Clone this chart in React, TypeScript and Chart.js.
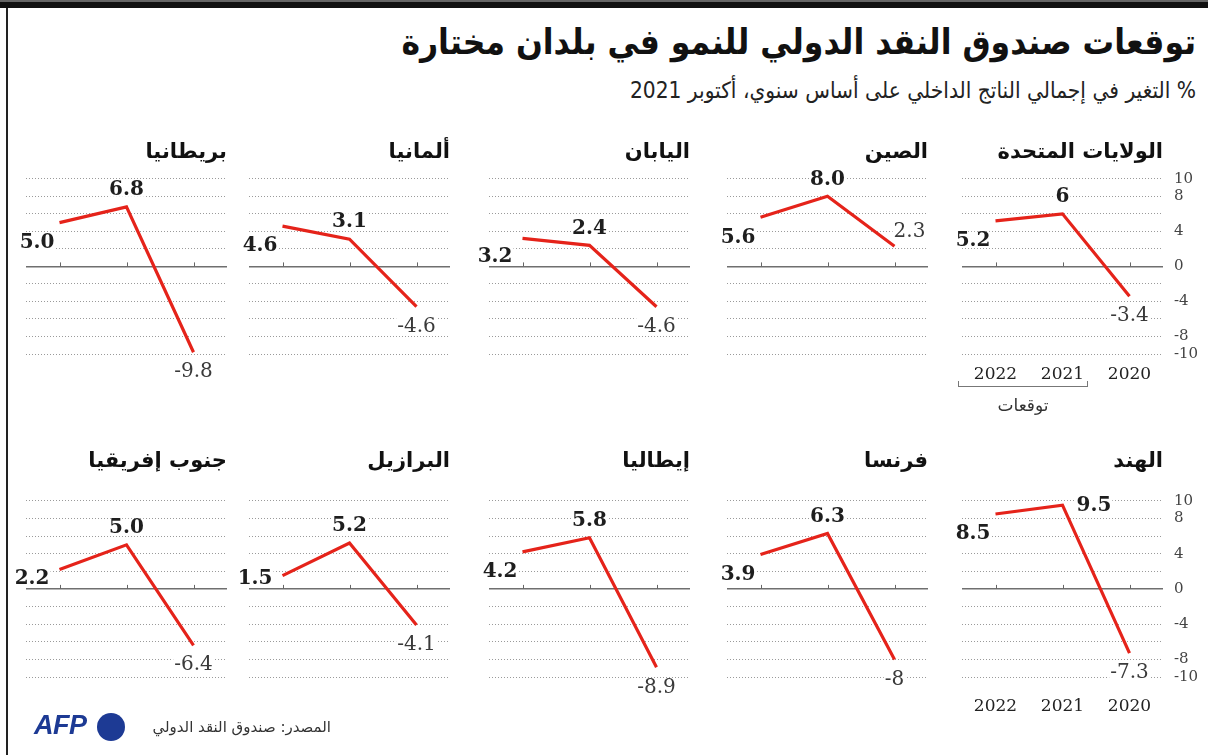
import React, { useEffect, useRef } from 'react';
import { Chart, registerables } from 'chart.js';

Chart.register(...registerables);

// ---------- data ----------
const years = ['2022', '2021', '2020'];
const yTickLabels = [10, 8, 4, 0, -4, -8, -10];

const row1Countries = ['بريطانيا', 'ألمانيا', 'اليابان', 'الصين', 'الولايات المتحدة'];
const row2Countries = ['جنوب إفريقيا', 'البرازيل', 'إيطاليا', 'فرنسا', 'الهند'];

const ukValues = [5.0, 6.8, -9.8];
const germanyValues = [4.6, 3.1, -4.6];
const japanValues = [3.2, 2.4, -4.6];
const chinaValues = [5.6, 8.0, 2.3];
const usValues = [5.2, 6.0, -3.4];

const southAfricaValues = [2.2, 5.0, -6.4];
const brazilValues = [1.5, 5.2, -4.1];
const italyValues = [4.2, 5.8, -8.9];
const franceValues = [3.9, 6.3, -8.0];
const indiaValues = [8.5, 9.5, -7.3];

const ukLabels = ['5.0', '6.8', '-9.8'];
const germanyLabels = ['4.6', '3.1', '-4.6'];
const japanLabels = ['3.2', '2.4', '-4.6'];
const chinaLabels = ['5.6', '8.0', '2.3'];
const usLabels = ['5.2', '6', '-3.4'];

const southAfricaLabels = ['2.2', '5.0', '-6.4'];
const brazilLabels = ['1.5', '5.2', '-4.1'];
const italyLabels = ['4.2', '5.8', '-8.9'];
const franceLabels = ['3.9', '6.3', '-8'];
const indiaLabels = ['8.5', '9.5', '-7.3'];

const row1Values = [ukValues, germanyValues, japanValues, chinaValues, usValues];
const row2Values = [southAfricaValues, brazilValues, italyValues, franceValues, indiaValues];
const row1Labels = [ukLabels, germanyLabels, japanLabels, chinaLabels, usLabels];
const row2Labels = [southAfricaLabels, brazilLabels, italyLabels, franceLabels, indiaLabels];

// ---------- layout / style ----------
const GRID_LEFTS = [26, 249, 489, 727, 962];
const PLOT_W = 201;
const PAD_L = 24;
const PAD_R = 16;
const Y_AXIS_W = 46;
const ROWS = [
  { top: 130, h: 270, titleTop: 10, titleBottom: 13.6, chartBottom: 224, yearPad: 10 },
  { top: 440, h: 280, titleTop: 9, titleBottom: 26.6, chartBottom: 237, yearPad: 19 },
];
const RED = '#e5231a';
const SERIF = "'DejaVu Serif', 'Liberation Serif', serif";
const ARABIC = "'DejaVu Sans', sans-serif";

function labelPlacement(chart: any, i: number, v: number) {
  const xs = chart.scales.x;
  const ys = chart.scales.y;
  const px = xs.getPixelForValue(i);
  const py = ys.getPixelForValue(v);
  const zeroY = ys.getPixelForValue(0);
  if (i === 0) {
    const want = py + 19;
    const lim = zeroY - 11;
    if (want > lim) return { x: px - 10, y: lim, align: 'right' as CanvasTextAlign };
    return { x: px - 5, y: want, align: 'right' as CanvasTextAlign };
  }
  if (i === 1) {
    if (v > 9) return { x: px + 14, y: py, align: 'left' as CanvasTextAlign };
    return { x: px, y: py - 18, align: 'center' as CanvasTextAlign };
  }
  if (v < 0) return { x: px, y: py + 19, align: 'center' as CanvasTextAlign };
  return { x: px + 15, y: py - 15, align: 'center' as CanvasTextAlign };
}

function labelFont(i: number) {
  return i < 2 ? `bold 20px ${SERIF}` : `20px ${SERIF}`;
}

const panelPlugin = {
  id: 'panelDecor',
  beforeDatasetsDraw(chart: any) {
    const ctx = chart.ctx;
    const xs = chart.scales.x;
    const ys = chart.scales.y;
    const zeroY = ys.getPixelForValue(0);
    ctx.save();
    // small category ticks on the zero line
    ctx.strokeStyle = '#666';
    ctx.lineWidth = 1;
    for (let i = 0; i < years.length; i++) {
      const x = Math.round(xs.getPixelForValue(i)) + 0.5;
      ctx.beginPath();
      ctx.moveTo(x, zeroY - 4);
      ctx.lineTo(x, zeroY);
      ctx.stroke();
    }
    // white backgrounds behind value labels
    const values = chart.data.datasets[0].data;
    const texts = chart.options.plugins.panelDecor.texts;
    ctx.fillStyle = '#ffffff';
    values.forEach((v: number, i: number) => {
      const p = labelPlacement(chart, i, v);
      ctx.font = labelFont(i);
      const w = ctx.measureText(texts[i]).width;
      let x0 = p.x;
      if (p.align === 'right') x0 = p.x - w;
      else if (p.align === 'center') x0 = p.x - w / 2;
      ctx.fillRect(x0 - 1, p.y - 8, w + 2, 16);
    });
    ctx.restore();
  },
  afterDatasetsDraw(chart: any) {
    const ctx = chart.ctx;
    const values = chart.data.datasets[0].data;
    const texts = chart.options.plugins.panelDecor.texts;
    ctx.save();
    ctx.textBaseline = 'middle';
    values.forEach((v: number, i: number) => {
      const p = labelPlacement(chart, i, v);
      ctx.font = labelFont(i);
      ctx.fillStyle = i < 2 ? '#1e1e1e' : '#3a3a3a';
      ctx.textAlign = p.align;
      ctx.fillText(texts[i], p.x, p.y + 1);
    });
    ctx.restore();
  },
};

function Panel({ title, values, texts, row, col }: any) {
  const ref = useRef<HTMLCanvasElement>(null);
  const isRight = col === 4;
  const R = ROWS[row];
  const width = PAD_L + PLOT_W + (isRight ? Y_AXIS_W : PAD_R);
  const left = GRID_LEFTS[col] - PAD_L;

  useEffect(() => {
    if (!ref.current) return;
    const chart = new Chart(ref.current, {
      type: 'line',
      data: {
        labels: years,
        datasets: [
          {
            data: values,
            borderColor: RED,
            borderWidth: 3.2,
            pointRadius: 0,
            pointHoverRadius: 0,
            tension: 0,
            fill: false,
            borderCapStyle: 'butt',
            borderJoinStyle: 'miter',
            clip: false,
          } as any,
        ],
      },
      options: {
        responsive: false,
        animation: false,
        events: [],
        layout: {
          padding: {
            left: PAD_L,
            right: isRight ? 0 : PAD_R,
            top: 0,
            bottom: isRight ? R.h - R.chartBottom - 40 : R.h - R.chartBottom,
          },
        },
        plugins: {
          legend: { display: false },
          tooltip: { enabled: false },
          title: {
            display: true,
            text: title,
            align: 'end',
            fullSize: false,
            color: '#111',
            font: { family: ARABIC, size: 21, weight: 'bold', lineHeight: 1.2 },
            padding: { top: R.titleTop, bottom: R.titleBottom },
          },
          panelDecor: { texts },
        } as any,
        scales: {
          x: {
            type: 'category',
            offset: true,
            afterFit: (s: any) => {
              s.height = isRight ? 40 : 0;
            },
            ticks: {
              display: isRight,
              padding: R.yearPad,
              autoSkip: false,
              maxRotation: 0,
              color: '#222',
              font: { family: SERIF, size: 17 },
            },
            grid: { display: false, drawTicks: false },
            border: { display: false },
          },
          y: {
            min: -10,
            max: 10,
            position: 'right',
            afterFit: (s: any) => {
              s.width = isRight ? Y_AXIS_W : 0;
            },
            ticks: {
              display: isRight,
              stepSize: 2,
              autoSkip: false,
              padding: 11,
              color: '#444',
              font: { family: SERIF, size: 15, lineHeight: 1 },
              callback: (v: any) => (yTickLabels.includes(Number(v)) ? String(v) : ''),
            },
            grid: {
              drawTicks: false,
              color: (c: any) => (c.tick && c.tick.value === 0 ? '#6f6f6f' : '#9a9a9a'),
              lineWidth: (c: any) => (c.tick && c.tick.value === 0 ? 1.6 : 1),
            },
            border: {
              display: false,
              dash: (c: any) => (c.tick && c.tick.value === 0 ? [] : [1, 2]),
            },
          } as any,
        },
      } as any,
      plugins: [panelPlugin],
    });
    return () => chart.destroy();
  }, []);

  return (
    <canvas
      ref={ref}
      width={width}
      height={R.h}
      style={{ position: 'absolute', left, top: R.top, width, height: R.h }}
    />
  );
}

export default function App() {
  return (
    <div
      style={{
        position: 'fixed',
        left: 0,
        top: 0,
        width: 1208,
        height: 755,
        background: '#fff',
        overflow: 'hidden',
      }}
    >
      {/* frame */}
      <div style={{ position: 'absolute', left: 0, top: 0, width: 1208, height: 2, background: '#666' }} />
      <div style={{ position: 'absolute', left: 0, top: 2, width: 1208, height: 6, background: '#111' }} />
      <div style={{ position: 'absolute', left: 6, top: 8, width: 2, height: 747, background: '#222' }} />

      {/* titles */}
      <div
        dir="rtl"
        style={{
          position: 'absolute',
          right: 12,
          top: 21,
          fontFamily: "'DejaVu Sans Condensed', 'DejaVu Sans', sans-serif",
          fontStretch: 'condensed',
          fontWeight: 'bold',
          fontSize: 35,
          lineHeight: '42px',
          whiteSpace: 'nowrap',
          color: '#111',
        }}
      >
        توقعات صندوق النقد الدولي للنمو في بلدان مختارة
      </div>
      <div
        dir="rtl"
        style={{
          position: 'absolute',
          right: 12,
          top: 76,
          fontFamily: "'DejaVu Sans Condensed', 'DejaVu Sans', sans-serif",
          fontSize: 22.5,
          lineHeight: '28px',
          whiteSpace: 'nowrap',
          color: '#222',
        }}
      >
        % التغير في إجمالي الناتج الداخلي على أساس سنوي، أكتوبر 2021
      </div>

      {row1Countries.map((c, i) => (
        <Panel key={'r1' + i} title={c} values={row1Values[i]} texts={row1Labels[i]} row={0} col={i} />
      ))}
      {row2Countries.map((c, i) => (
        <Panel key={'r2' + i} title={c} values={row2Values[i]} texts={row2Labels[i]} row={1} col={i} />
      ))}

      {/* forecast bracket */}
      <div
        style={{
          position: 'absolute',
          left: 958,
          top: 381,
          width: 128,
          height: 5,
          borderLeft: '1px solid #777',
          borderRight: '1px solid #777',
          borderBottom: '1px solid #777',
        }}
      />
      <div
        dir="rtl"
        style={{
          position: 'absolute',
          left: 958,
          width: 130,
          top: 394,
          textAlign: 'center',
          fontFamily: ARABIC,
          fontSize: 17,
          lineHeight: '22px',
          color: '#333',
        }}
      >
        توقعات
      </div>

      {/* footer */}
      <div
        dir="rtl"
        style={{
          position: 'absolute',
          right: 1208 - 331,
          top: 716,
          fontFamily: ARABIC,
          fontSize: 15,
          lineHeight: '22px',
          whiteSpace: 'nowrap',
          color: '#333',
        }}
      >
        المصدر: صندوق النقد الدولي
      </div>
      <div
        style={{
          position: 'absolute',
          left: 34,
          top: 710,
          fontFamily: "'Liberation Sans', Arial, sans-serif",
          fontWeight: 900,
          fontStyle: 'italic',
          fontSize: 27,
          lineHeight: '30px',
          letterSpacing: -0.5,
          color: '#1d3a94',
        }}
      >
        AFP
      </div>
      <div
        style={{
          position: 'absolute',
          left: 97,
          top: 713,
          width: 28,
          height: 28,
          borderRadius: '50%',
          background: '#1d3a94',
        }}
      />
    </div>
  );
}
